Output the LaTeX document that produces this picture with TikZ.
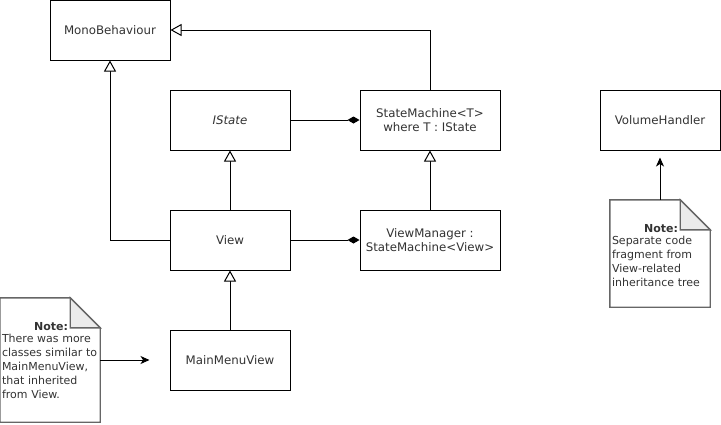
\documentclass[tikz,border=0pt]{standalone}
\usepackage{fontspec}
\setmainfont{DejaVu Sans}
\usetikzlibrary{arrows.meta}
\definecolor{txtgray}{HTML}{333333}
\definecolor{notegray}{HTML}{666666}
\definecolor{foldgray}{HTML}{EBEBEB}
\begin{document}
\begin{tikzpicture}[x=1pt, y=-1pt,
    cls/.style={draw, line width=1pt, fill=white, text=txtgray,
      minimum width=120pt, minimum height=60pt, inner sep=0pt,
      align=center, font=\fontsize{11.8}{14.5}\selectfont},
    notebox/.style={minimum width=100pt, inner sep=0pt},
    notetext/.style={text=txtgray, text width=96pt, inner sep=0pt,
      align=left, font=\fontsize{11}{14}\selectfont},
    inherit/.style={line width=1pt, -{Triangle[open, length=11pt, width=12pt, fill=white]}},
    compose/.style={line width=1pt, -{Diamond[length=12pt, width=7pt]}},
    notearrow/.style={line width=1pt, -{Stealth[length=9pt, width=8pt, inset=2.5pt]}}]
    \useasboundingbox (0,0) rectangle (721,424);
    % classes
    \node[cls] (mono) at (110,30) {MonoBehaviour};
    \node[cls] (istate) at (230,120) {\textit{IState}};
    \node[cls, minimum width=140pt] (sm) at (430,120) {StateMachine<T>\\where T : IState};
    \node[cls] (view) at (230,240) {View};
    \node[cls, minimum width=140pt] (vm) at (430,240) {ViewManager :\\StateMachine<View>};
    \node[cls] (mmv) at (230,360) {MainMenuView};
    \node[cls] (vol) at (660,120) {VolumeHandler};
    % notes
    \node[notebox, minimum height=124pt] (note1) at (50,360) {};
    \node[notebox, minimum height=107pt] (note2) at (660,253.5) {};
    \foreach \n in {note1, note2} {
      \draw[notegray, line width=1.4pt, fill=white] (\n.north west)
        -- ([xshift=-30pt]\n.north east) -- ([yshift=-30pt]\n.north east)
        -- (\n.south east) -- (\n.south west) -- cycle;
      \draw[notegray, line width=1.4pt, fill=foldgray] ([xshift=-30pt]\n.north east)
        -- ([xshift=-30pt, yshift=-30pt]\n.north east) -- ([yshift=-30pt]\n.north east) -- cycle;
    }
    \node[notetext, anchor=north west] (note1txt) at ([xshift=2pt, yshift=-24pt]note1.north west)
      {\hspace*{\fill}\textbf{Note:}\hbox to 30pt{}\\[-2pt]There was more\\classes similar to\\MainMenuView,\\that inherited\\from View.};
    \node[notetext, anchor=north west] (note2txt) at ([xshift=2pt, yshift=-24pt]note2.north west)
      {\hspace*{\fill}\textbf{Note:}\hbox to 30pt{}\\[-2pt]Separate code\\fragment from\\View-related\\inheritance tree};
    % connectors
    \draw[inherit] (view) -- (istate);
    \draw[inherit] (vm) -- (sm);
    \draw[inherit] (mmv) -- (view);
    \draw[inherit] (view.west) -| (mono.south);
    \draw[inherit] (sm.north) |- (mono.east);
    \draw[compose] (istate) -- (sm);
    \draw[compose] (view) -- (vm);
    \draw[notearrow, shorten >=20pt] (note1) -- (mmv);
    \draw[notearrow, shorten >=7pt] (note2) -- (vol);
\end{tikzpicture}
\end{document}
